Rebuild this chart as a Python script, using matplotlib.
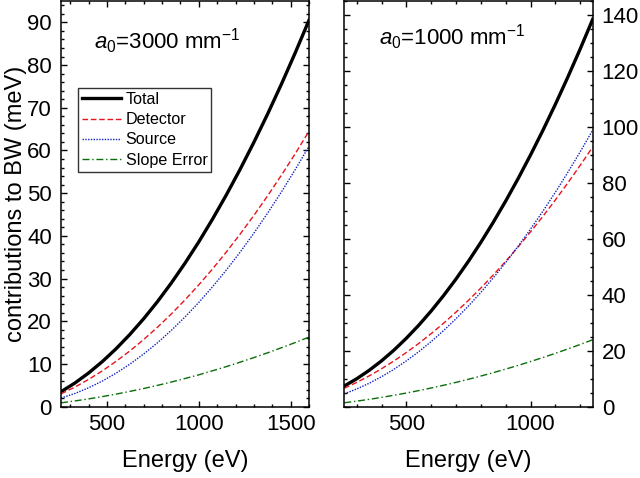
import matplotlib
matplotlib.use('Agg')
import matplotlib.pyplot as plt
from matplotlib.ticker import MultipleLocator

plt.rcParams['font.family'] = ['Liberation Sans', 'DejaVu Sans']
plt.rcParams['mathtext.fontset'] = 'custom'
plt.rcParams['mathtext.rm'] = 'Liberation Sans'
plt.rcParams['mathtext.it'] = 'Liberation Sans:italic'

# a0 = 3000 mm^-1 panel
e_left = [250, 325, 400, 475, 550, 625, 700, 775, 850, 925,
          1000, 1075, 1150, 1225, 1300, 1375, 1450, 1525, 1600]
total_left = [3.5, 5.52, 7.88, 10.56, 13.57, 16.92, 20.59, 24.59, 28.93, 33.6,
              38.59, 43.93, 49.59, 55.58, 61.91, 68.56, 75.54, 82.86, 90.5]
detector_left = [3.0, 4.58, 6.37, 8.39, 10.62, 13.06, 15.72, 18.60, 21.69, 25.0,
                 28.53, 32.26, 36.22, 40.40, 44.78, 49.39, 54.21, 59.24, 64.5]
source_left = [2.0, 3.08, 4.41, 6.0, 7.85, 9.96, 12.34, 14.96, 17.85, 21.0,
               24.41, 28.08, 32.0, 36.18, 40.63, 45.34, 50.29, 55.52, 61.0]
slope_left = [0.9, 1.34, 1.82, 2.36, 2.94, 3.58, 4.25, 4.99, 5.76, 6.6,
              7.46, 8.41, 9.39, 10.42, 11.50, 12.62, 13.80, 15.02, 16.3]

# a0 = 1000 mm^-1 panel
e_right = [250, 300, 350, 400, 450, 500, 550, 600, 650, 700, 750,
           800, 850, 900, 950, 1000, 1050, 1100, 1150, 1200, 1250]
total_right = [7.4, 9.98, 12.98, 16.39, 20.22, 24.48, 29.14, 34.23, 39.74, 45.66, 52.0,
               58.76, 65.94, 73.53, 81.54, 89.98, 98.82, 108.09, 117.78, 127.88, 138.4]
detector_right = [6.6, 8.69, 11.01, 13.56, 16.35, 19.38, 22.63, 26.12, 29.85, 33.81, 38.0,
                  42.43, 47.09, 51.98, 57.11, 62.48, 68.07, 73.90, 79.97, 86.27, 92.8]
source_right = [4.6, 6.33, 8.37, 10.72, 13.39, 16.38, 19.67, 23.28, 27.21, 31.45, 36.0,
                40.87, 46.05, 51.54, 57.35, 63.48, 69.91, 76.66, 83.73, 91.11, 98.8]
slope_right = [1.4, 1.98, 2.62, 3.32, 4.08, 4.88, 5.76, 6.68, 7.66, 8.70, 9.8,
               10.96, 12.16, 13.44, 14.76, 16.14, 17.58, 19.08, 20.62, 22.24, 23.9]

fig = plt.figure(figsize=(6.4, 4.78), dpi=100)
ax1 = fig.add_axes([0.0953, 0.1492, 0.3875, 0.8487])
ax2 = fig.add_axes([0.538, 0.1492, 0.388, 0.8487])


def draw(ax, e, tot, det, src, slp):
    ax.plot(e, tot, color='black', lw=2.4, label='Total')
    ax.plot(e, det, color='#e8141c', lw=1.0, ls=(0, (4, 2)), label='Detector')
    ax.plot(e, src, color='#1020c0', lw=1.0, ls=(0, (1, 1)), label='Source')
    ax.plot(e, slp, color='#0a6e0a', lw=1.0, ls=(0, (5, 2, 1, 2)), label='Slope Error')
    ax.tick_params(which='both', direction='in', top=True, right=True,
                   labelsize=16, width=1.0)
    ax.tick_params(which='major', length=4.5)
    ax.tick_params(which='minor', length=2.5)
    ax.tick_params(axis='x', pad=5)
    ax.tick_params(axis='y', pad=6.5)
    ax.xaxis.set_minor_locator(MultipleLocator(100))
    for s in ax.spines.values():
        s.set_linewidth(1.1)
    ax.set_xlabel('Energy (eV)', fontsize=17, labelpad=11)


draw(ax1, e_left, total_left, detector_left, source_left, slope_left)
ax1.set_xlim(250, 1600)
ax1.set_ylim(0, 95)
ax1.xaxis.set_major_locator(MultipleLocator(500))
ax1.yaxis.set_major_locator(MultipleLocator(10))
ax1.yaxis.set_minor_locator(MultipleLocator(2))
ax1.set_ylabel('contributions to BW (meV)', fontsize=17, labelpad=0)
ax1.text(0.135, 0.90, r'$a_0$=3000 mm$^{-1}$', transform=ax1.transAxes,
         fontsize=16, va='center')
leg = ax1.legend(loc='upper left', bbox_to_anchor=(0.0685, 0.786), fontsize=11.6,
                 frameon=True, fancybox=False, handlelength=2.4,
                 handletextpad=0.3, borderpad=0.25, labelspacing=0.33,
                 borderaxespad=0)
leg.get_frame().set_edgecolor('black')
leg.get_frame().set_linewidth(1.0)

draw(ax2, e_right, total_right, detector_right, source_right, slope_right)
ax2.set_xlim(250, 1250)
ax2.set_ylim(0, 145)
ax2.xaxis.set_major_locator(MultipleLocator(500))
ax2.yaxis.set_major_locator(MultipleLocator(20))
ax2.yaxis.set_minor_locator(MultipleLocator(5))
ax2.tick_params(axis='y', labelleft=False, labelright=True)
ax2.text(0.14, 0.91, r'$a_0$=1000 mm$^{-1}$', transform=ax2.transAxes,
         fontsize=16, va='center')

fig.savefig('out.png', dpi=100)
